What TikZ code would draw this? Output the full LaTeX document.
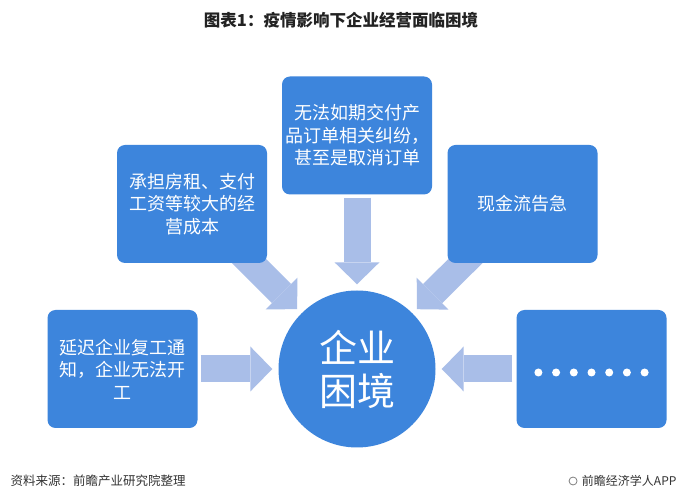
\documentclass[tikz,border=0pt]{standalone}
\usepackage{fontspec}
\setmainfont{Noto Sans CJK SC}
\usepackage{tikz}
\usetikzlibrary{arrows.meta,positioning,backgrounds}
\definecolor{boxblue}{HTML}{3D85DC}
\definecolor{arrowblue}{HTML}{A9BEE8}
\definecolor{titleblack}{HTML}{222222}
\definecolor{footgrey}{HTML}{333333}

\begin{document}
\begin{tikzpicture}[x=1pt,y=-1pt,node distance=233.5pt]
\tikzstyle{cause}=[rectangle,rounded corners=8pt,fill=boxblue,text=white,on grid,
minimum width=150pt,minimum height=118pt,inner sep=0pt,align=center,
font=\fontsize{18}{22.5}\selectfont]
\tikzstyle{core}=[circle,fill=boxblue,text=white,minimum size=157pt,inner sep=0pt,
align=center,font=\fontsize{38}{43}\selectfont]
\tikzstyle{push}=[draw=arrowblue,line width=27pt,
-{Triangle[width=45pt,length=22pt,line width=0pt,color=arrowblue,fill=arrowblue]},
shorten >=6pt,shorten <=3pt]

\useasboundingbox (0,0) rectangle (683,502);

\node[core]  (core)  at (357,369)              {企业\\困境};
\node[cause] (order) [above=of core]          {无法如期交付产\\品订单相关纠纷，\\甚至是取消订单};
\node[cause] (cost)  [above left=165pt and 165pt of core]    {承担房租、支付\\工资等较大的经\\营成本};
\node[cause] (cash)  [above right=165pt and 165.5pt of core] {现金流告急};
\node[cause] (delay) [left=234.5pt of core]   {延迟企业复工通\\知，企业无法开\\工};
\node[cause] (more)  [right=234.5pt of core]  {};

% dots in the last box
\foreach \k in {-3,...,3}
  \fill[white] ([xshift=\k*17.7pt,yshift=-3.5pt]more.center) circle (4pt);

\begin{pgfonlayer}{background}
\fill[white] (0,0) rectangle (683,502);
\path[push]
(cost)  edge [shorten <=-20pt]	(core)
(order) edge			(core)
(cash)  edge [shorten <=-20pt]	(core)
(delay) edge			(core)
(more)  edge [shorten <=4pt]	(core);
\end{pgfonlayer}

\node[font=\bfseries\fontsize{16.5}{20}\selectfont,text=titleblack] (title) at (341,20)
{图表1：疫情影响下企业经营面临困境};

\node[anchor=west,font=\fontsize{12.5}{15}\selectfont,text=footgrey] (source) at (7,481)
{资料来源：前瞻产业研究院整理};
\node[anchor=east,font=\fontsize{12}{15}\selectfont,text=footgrey] (brand) at (680,481)
{前瞻经济学人APP};
\node[circle,draw=gray,line width=0.8pt,inner sep=0pt,minimum size=8pt,anchor=east]
(logo) at ([xshift=-1pt]brand.west) {};
\end{tikzpicture}
\end{document}
